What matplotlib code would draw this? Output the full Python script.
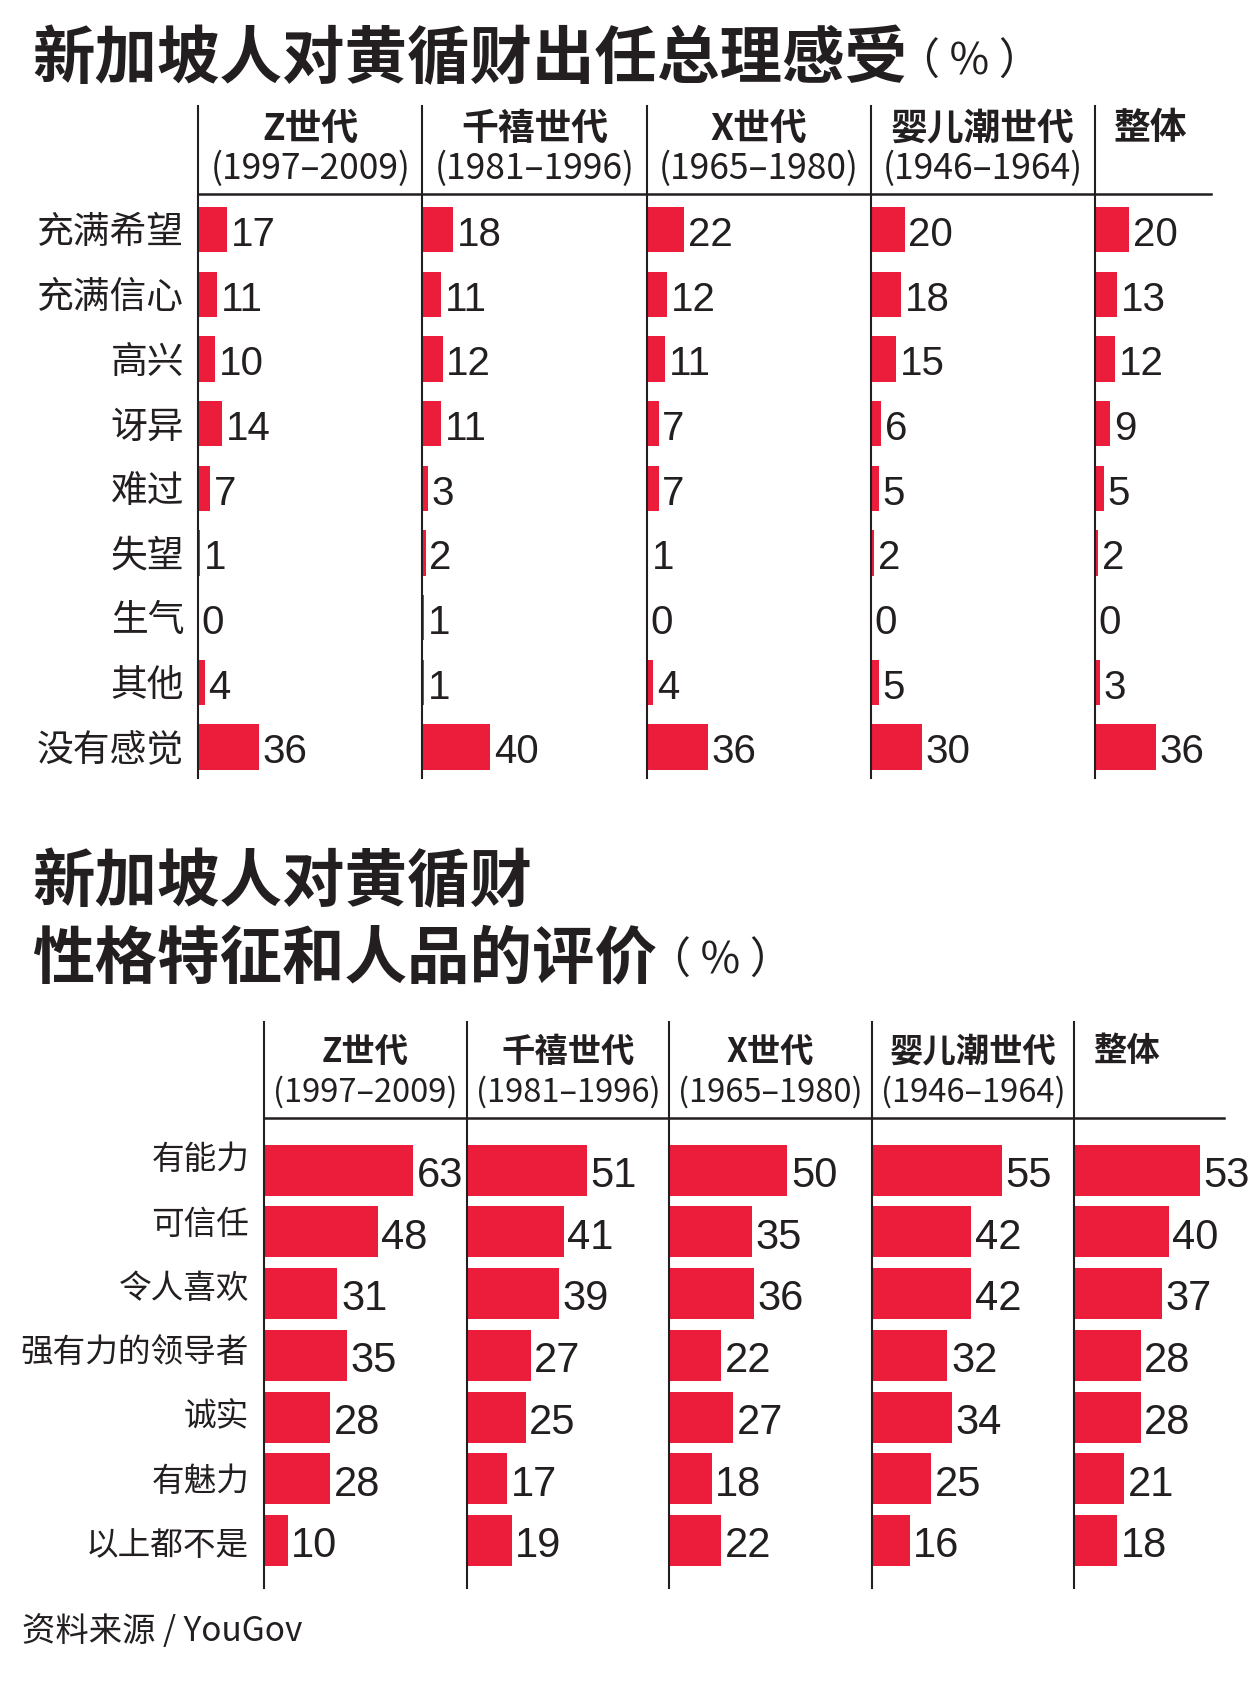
import matplotlib
matplotlib.use("Agg")
import matplotlib.pyplot as plt
from matplotlib.lines import Line2D
import numpy as np

plt.rcParams['font.family'] = ['Liberation Sans', 'Noto Sans CJK SC', 'DejaVu Sans']

# ---------------- data ----------------
generations = ['Z世代', '千禧世代', 'X世代', '婴儿潮世代', '整体']
gen_years = ['(1997–2009)', '(1981–1996)', '(1965–1980)', '(1946–1964)', '']

feel_title = '新加坡人对黄循财出任总理感受'
feel_labels = ['充满希望', '充满信心', '高兴', '讶异', '难过', '失望', '生气', '其他', '没有感觉']
feel_gen_z = [17, 11, 10, 14, 7, 1, 0, 4, 36]
feel_millennial = [18, 11, 12, 11, 3, 2, 1, 1, 40]
feel_gen_x = [22, 12, 11, 7, 7, 1, 0, 4, 36]
feel_boomer = [20, 18, 15, 6, 5, 2, 0, 5, 30]
feel_overall = [20, 13, 12, 9, 5, 2, 0, 3, 36]

trait_title_1 = '新加坡人对黄循财'
trait_title_2 = '性格特征和人品的评价'
trait_labels = ['有能力', '可信任', '令人喜欢', '强有力的领导者', '诚实', '有魅力', '以上都不是']
trait_gen_z = [63, 48, 31, 35, 28, 28, 10]
trait_millennial = [51, 41, 39, 27, 25, 17, 19]
trait_gen_x = [50, 35, 36, 22, 27, 18, 22]
trait_boomer = [55, 42, 42, 32, 34, 25, 16]
trait_overall = [53, 40, 37, 28, 28, 21, 18]

unit_text = '（ % ）'
source_text = '资料来源 / YouGov'

# ---------------- layout ----------------
W, H = 1155.0, 1571.0
def fx(x):
    return x / W
def fy(y):
    return 1 - y / H

RED = '#ec1d3b'
INK = '#231f20'
CJK = ['Noto Sans CJK SC', 'DejaVu Sans']
NUM = ['Liberation Sans', 'Noto Sans CJK SC', 'DejaVu Sans']

fig = plt.figure(figsize=(12.51, 17.02), dpi=100)
fig.patch.set_facecolor('white')


def draw_table(series, labels, col_x, right_end, line_top, rule_y, line_bottom,
               row0, row_step, bar_px, px_per_unit, label_right, label_row0,
               label_step, label_fs, value_fs, head_fs, year_fs, head_y, year_y):
    n = len(labels)
    for i, vals in enumerate(series):
        left = col_x[i]
        right = col_x[i + 1] if i + 1 < len(col_x) else right_end
        ax = fig.add_axes([fx(left), fy(line_bottom), (right - left) / W,
                           (line_bottom - line_top) / H])
        ax.set_xlim(0, (right - left) / px_per_unit)
        ax.set_ylim((line_bottom - row0) / row_step, (line_top - row0) / row_step)
        ax.axis('off')
        ax.patch.set_visible(False)
        y = np.arange(n)
        ax.barh(y, vals, height=bar_px / row_step, color=RED, linewidth=0)
        for yi, v in zip(y, vals):
            ax.annotate(str(v), xy=(v, yi), xytext=(2.5, -1), textcoords='offset points',
                        ha='left', va='center_baseline', fontsize=value_fs,
                        family=NUM, color=INK, annotation_clip=False)
        # vertical rule
        fig.add_artist(Line2D([fx(left), fx(left)], [fy(line_top), fy(line_bottom)],
                              color=INK, lw=1.5))
        # headers
        if gen_years[i]:
            cx = (left + right) / 2
            fig.text(fx(cx), fy(head_y), generations[i], ha='center', va='center',
                     fontsize=head_fs, family=CJK, fontweight='bold', color=INK)
            fig.text(fx(cx), fy(year_y), gen_years[i], ha='center', va='center',
                     fontsize=year_fs, family=CJK, color=INK)
        else:
            fig.text(fx(left + 17), fy(head_y), generations[i], ha='left', va='center',
                     fontsize=head_fs, family=CJK, fontweight='bold', color=INK)
    # horizontal rule under the header
    fig.add_artist(Line2D([fx(col_x[0]), fx(right_end)], [fy(rule_y), fy(rule_y)],
                          color=INK, lw=1.8))
    # row labels
    for i, lab in enumerate(labels):
        fig.text(fx(label_right), fy(label_row0 + i * label_step), lab, ha='right',
                 va='center', fontsize=label_fs, family=CJK, color=INK)


# ---- titles ----
fig.text(fx(30), fy(55), feel_title, ha='left', va='center', fontsize=45,
         family=CJK, fontweight='black', color=INK)
fig.text(fx(828), fy(58), unit_text, ha='left', va='center', fontsize=31,
         family=CJK, fontweight='medium', color=INK)

fig.text(fx(30), fy(815), trait_title_1, ha='left', va='center', fontsize=45,
         family=CJK, fontweight='black', color=INK)
fig.text(fx(30), fy(885), trait_title_2, ha='left', va='center', fontsize=45,
         family=CJK, fontweight='black', color=INK)
fig.text(fx(598), fy(888), unit_text, ha='left', va='center', fontsize=31,
         family=CJK, fontweight='medium', color=INK)

# ---- table 1 ----
draw_table([feel_gen_z, feel_millennial, feel_gen_x, feel_boomer, feel_overall],
           feel_labels, col_x=[183, 390, 597, 804, 1011], right_end=1118,
           line_top=98, rule_y=179.5, line_bottom=718, row0=212, row_step=59.7,
           bar_px=42, px_per_unit=1.57, label_right=170, label_row0=215,
           label_step=59.7, label_fs=26.5, value_fs=29, head_fs=26.5,
           year_fs=25.5, head_y=119, year_y=156)

# ---- table 2 ----
draw_table([trait_gen_z, trait_millennial, trait_gen_x, trait_boomer, trait_overall],
           trait_labels, col_x=[244, 431, 618, 805, 992], right_end=1130,
           line_top=943, rule_y=1032, line_bottom=1466, row0=1080, row_step=57,
           bar_px=47, px_per_unit=2.18, label_right=230, label_row0=1071,
           label_step=59.3, label_fs=23.5, value_fs=30, head_fs=24,
           year_fs=23.5, head_y=971, year_y=1008)

# ---- source ----
fig.text(fx(20), fy(1506), source_text, ha='left', va='center', fontsize=24,
         family=CJK, fontweight='light', color=INK)

fig.savefig('out.png', dpi=100, facecolor='white')
